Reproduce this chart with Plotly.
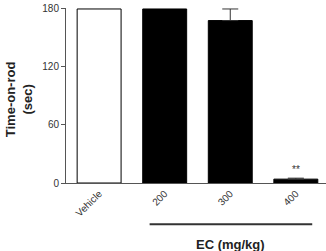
import plotly.graph_objects as go

categories = ["Vehicle", "200", "300", "400"]
means = [180, 180, 168, 4]
errors = [0, 0, 12, 1]
fills = ["white", "black", "black", "black"]
y_ticks = [0, 60, 120, 180]
sig_labels = ["", "", "", "**"]

fig = go.Figure()
fig.add_trace(go.Bar(
    x=categories, y=means,
    marker=dict(color=fills, line=dict(color="black", width=1)),
    width=0.67,
    showlegend=False,
))
err_idx = [i for i, e in enumerate(errors) if e > 0]
fig.add_trace(go.Scatter(
    x=[categories[i] for i in err_idx], y=[means[i] for i in err_idx],
    mode="markers", marker=dict(size=0.1, color="rgba(0,0,0,0)"),
    error_y=dict(type="data", array=[errors[i] for i in err_idx], arrayminus=[0] * len(err_idx),
                 symmetric=False, visible=True, color="#333", thickness=1, width=8),
    showlegend=False, hoverinfo="skip",
))

for i, (m, e, s) in enumerate(zip(means, errors, sig_labels)):
    if s:
        fig.add_annotation(x=i, xref="x", y=m + e, yref="y", text=s, showarrow=False,
                           yanchor="bottom", yshift=1, font=dict(size=10, color="#333", family="Arial"))

fig.add_shape(type="line", xref="x", yref="paper", x0=0.77, x1=3.25, y0=-0.236, y1=-0.236,
              line=dict(color="#333", width=2))
fig.add_annotation(x=2, xref="x", y=-0.35, yref="paper", text="<b>EC (mg/kg)</b>",
                   showarrow=False, yanchor="middle", font=dict(size=13, color="#222", family="Arial"))
fig.add_annotation(x=-0.18, xref="paper", y=0.48, yref="paper", text="<b>Time-on-rod<br>(sec)</b>",
                   showarrow=False, textangle=-90, xanchor="center", yanchor="middle",
                   font=dict(size=13, color="#222", family="Arial"))

fig.update_layout(
    width=326, height=251,
    margin=dict(l=66, r=0, t=8, b=68),
    plot_bgcolor="white", paper_bgcolor="white",
    xaxis=dict(range=[-0.505, 3.46], showline=True, linecolor="#555", linewidth=1,
               ticks="", tickangle=-45, tickfont=dict(size=10, color="#333", family="Arial"),
               showgrid=False, zeroline=False),
    yaxis=dict(range=[0, 181], tickvals=y_ticks, showline=True, linecolor="#555", linewidth=1,
               ticks="outside", ticklen=4, tickcolor="#555",
               tickfont=dict(size=10, color="#333", family="Arial"),
               showgrid=False, zeroline=False),
)
fig.write_html("out.html")
